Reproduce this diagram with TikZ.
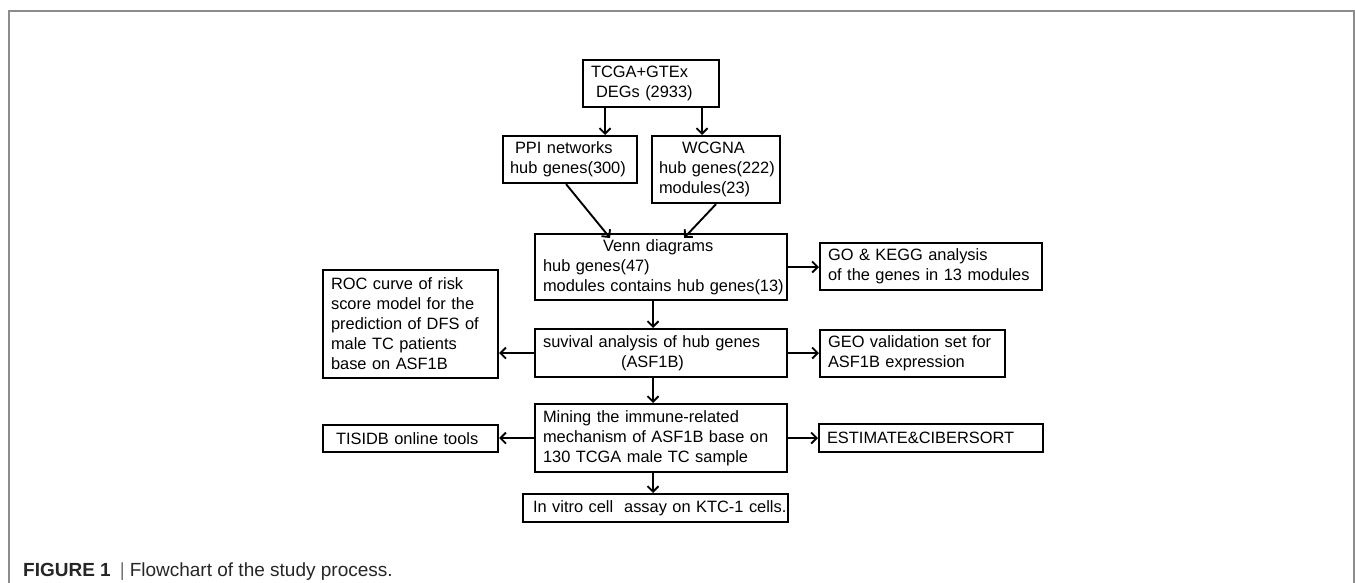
\documentclass[tikz,border=0pt]{standalone}
\usepackage{fontspec}
\setmainfont{Liberation Sans}
\usetikzlibrary{arrows.meta}
\begin{document}
\begin{tikzpicture}[x=1pt,y=-1pt,
  box/.style={draw, line width=2.1pt, inner xsep=8pt, inner ysep=0pt,
    align=left, anchor=north west, font=\fontsize{16.4}{20}\selectfont},
  arr/.style={line width=1.9pt,
    -{Straight Barb[length=5.5pt,width=11pt,line width=1.9pt]}},
  frame/.style={draw=black!45, line width=1.3pt}]

\useasboundingbox (0,0) rectangle (1355,583);

% figure frame, open at the bottom
\draw[frame] (9,583) -- (9,11) -- (1354,11) -- (1354,583);

% boxes (each line kept on one row with \mbox)
\node[box, minimum width=136pt, minimum height=47pt, text width=120pt]
  (tcga) at (582,59) {\mbox{TCGA+GTEx}\\\mbox{\hspace*{5pt}DEGs (2933)}};
\node[box, inner xsep=7pt, minimum width=134pt, minimum height=47pt, text width=120pt]
  (ppi) at (502,135) {\mbox{\hspace*{5pt}PPI networks}\\\mbox{hub genes(300)}};
\node[box, inner xsep=7pt, minimum width=128pt, minimum height=67pt, text width=114pt]
  (wgcna) at (651,135) {\mbox{\hspace*{23pt}WCGNA}\\\mbox{hub genes(222)}\\\mbox{modules(23)}};
\node[box, minimum width=252pt, minimum height=66pt, text width=236pt]
  (venn) at (534,233) {\mbox{\hspace*{60pt}Venn diagrams}\\\mbox{hub genes(47)}\\\mbox{modules contains hub genes(13)}};
\node[box, minimum width=222pt, minimum height=47pt, text width=206pt]
  (go) at (819,242) {\mbox{GO \& KEGG analysis}\\\mbox{of the genes in 13 modules}};
\node[box, minimum width=252pt, minimum height=48pt, text width=236pt]
  (surv) at (534,328) {\mbox{suvival analysis of hub genes}\\\mbox{\hspace*{78pt}(ASF1B)}};
\node[box, minimum width=185pt, minimum height=47pt, text width=169pt]
  (geo) at (819,329) {\mbox{GEO validation set for}\\\mbox{ASF1B expression}};
\node[box, minimum width=175pt, minimum height=108pt, text width=159pt]
  (roc) at (322,269) {\mbox{ROC curve of risk}\\\mbox{score model for the}\\\mbox{prediction of DFS of}\\\mbox{male TC patients}\\\mbox{base on ASF1B}};
\node[box, minimum width=252pt, minimum height=68pt, text width=236pt]
  (mine) at (534,403) {\mbox{Mining the immune-related}\\\mbox{mechanism of ASF1B base on}\\\mbox{130 TCGA male TC sample}};
\node[box, inner xsep=13pt, minimum width=175pt, minimum height=27pt, text width=149pt]
  (tisidb) at (322,424) {\mbox{TISIDB online tools}};
\node[box, minimum width=224pt, minimum height=28pt, text width=208pt]
  (estim) at (818,423) {\mbox{ESTIMATE\&CIBERSORT}};
\node[box, inner xsep=10pt, minimum width=265pt, minimum height=28pt, text width=245pt]
  (vitro) at (522,493) {\mbox{In vitro cell\ \ assay on KTC-1 cells.}};

% connectors
\draw[arr] ([xshift=-46pt]tcga.south) -- ([xshift=-46pt]tcga.south |- ppi.north);
\draw[arr] ([xshift=51pt]tcga.south) -- ([xshift=51pt]tcga.south |- wgcna.north);
\draw[arr] ([xshift=-4pt]ppi.south) -- ([xshift=-51pt,yshift=-5pt]venn.north);
\draw[arr] (wgcna.south) -- ([xshift=23pt,yshift=-5pt]venn.north);
\draw[arr] (venn.east) -- (venn.east -| go.west);
\draw[arr] ([xshift=-8pt]venn.south) -- ([xshift=-8pt]surv.north);
\draw[arr] (surv.west) -- (surv.west -| roc.east);
\draw[arr] (surv.east) -- (surv.east -| geo.west);
\draw[arr] ([xshift=-8pt]surv.south) -- ([xshift=-8pt]mine.north);
\draw[arr] (mine.west) -- (mine.west -| tisidb.east);
\draw[arr] (mine.east) -- (mine.east -| estim.west);
\draw[arr] ([xshift=-8pt]mine.south) -- ([xshift=-8pt]mine.south |- vitro.north);

% caption
\node[anchor=base west, inner sep=0pt, font=\fontsize{19}{21}\selectfont, text=black!85]
  (cap) at (23,576) {\textbf{FIGURE 1}\hspace{9pt}{\color{black!55}|}\hspace{5pt}Flowchart of the study process.};
\end{tikzpicture}
\end{document}
